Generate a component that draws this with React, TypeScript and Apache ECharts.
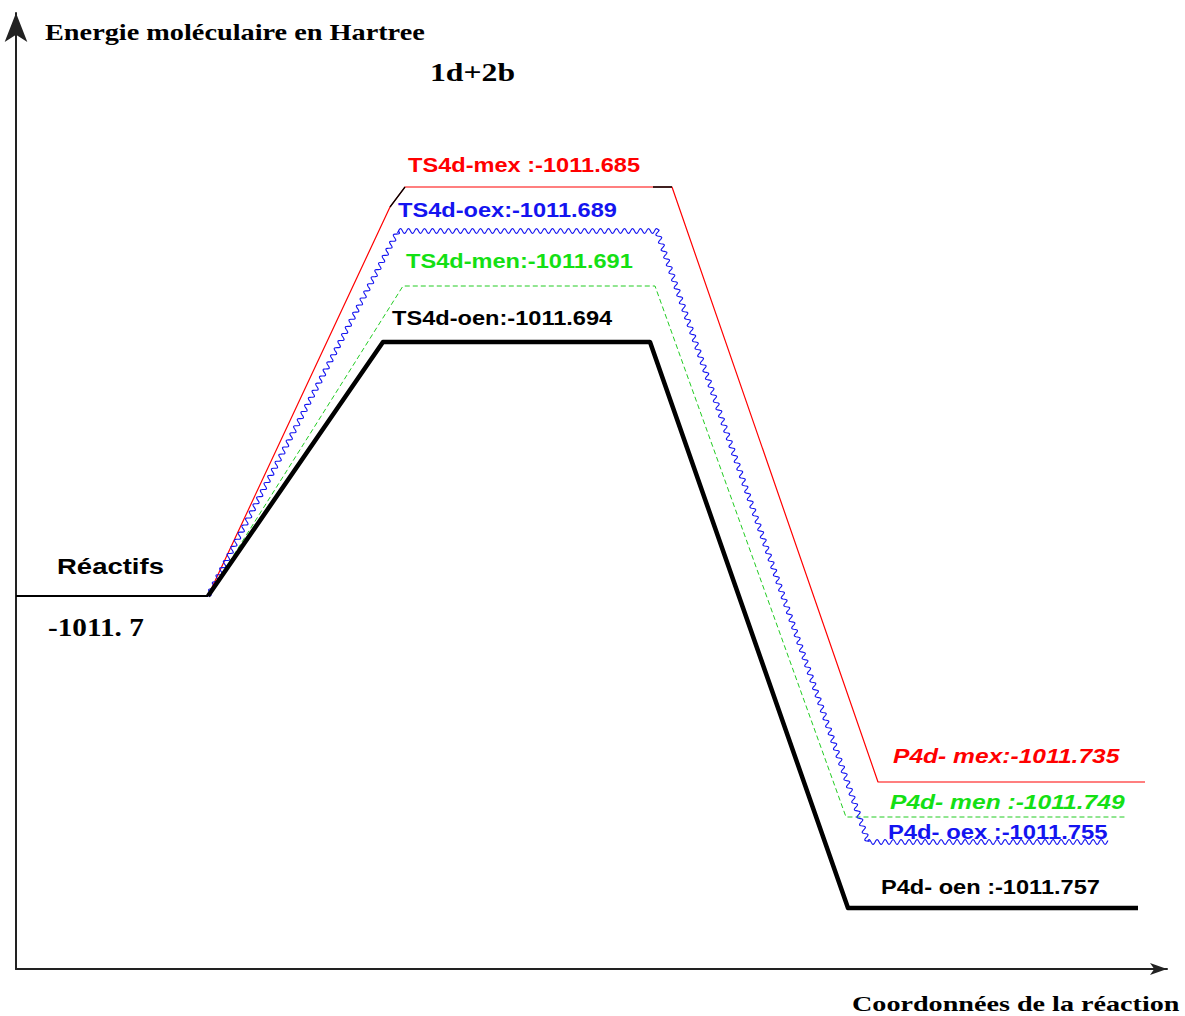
import React, { useEffect, useRef } from "react";
import * as echarts from "echarts";

// ---- Data (schematic reaction-coordinate positions and diagram levels) ----
const isomers = ["mex", "oex", "men", "oen"];
const tsEnergy = [-1011.685, -1011.689, -1011.691, -1011.694];
const tsPrefix = ["TS4d-mex :", "TS4d-oex:", "TS4d-men:", "TS4d-oen:"];
const pIsomers = ["mex", "men", "oex", "oen"];
const pEnergy = [-1011.735, -1011.749, -1011.755, -1011.757];
const pPrefix = ["P4d- mex:", "P4d- men :", "P4d- oex :", "P4d- oen :"];
const reactantLabel = "Réactifs";
const reactantEnergy = "-1011. 7";
const yTitle = "Energie moléculaire en Hartree";
const xTitle = "Coordonnées de la réaction";
const systemTitle = "1d+2b";

const reactX = [0, 19.2];
const reactY = [37.3, 37.3];

const mexX = [19.2, 37.4, 38.9, 65.6, 86.2, 112.9];
const mexY = [37.3, 76.2, 78.2, 78.2, 18.7, 18.7];
const oexX = [19.2, 38.2, 64.1, 85.2, 109.2];
const oexY = [37.3, 73.8, 73.8, 12.7, 12.7];
const menX = [19.2, 38.7, 63.9, 83.0, 111.1];
const menY = [37.3, 68.3, 68.3, 15.2, 15.2];
const oenX = [19.2, 36.7, 63.4, 83.2, 112.2];
const oenY = [37.3, 62.7, 62.7, 6.1, 6.1];

// small black pieces drawn over the red path in the original
const blackBitAX = [37.4, 38.9];
const blackBitAY = [76.2, 78.2];
const blackBitBX = [63.7, 65.6];
const blackBitBY = [78.2, 78.2];

const RED = "#ff0000";
const BLUE = "#1414f0";
const GREEN = "#14e014";
const GREEN_LINE = "#22cc22";

const pts = (xs: number[], ys: number[]) => xs.map((x, i) => [x, ys[i]]);

function txt(text: string, x: number, y: number, font: string, fill: string, sx: number) {
  return {
    type: "text",
    x,
    y,
    scaleX: sx,
    silent: true,
    style: {
      text,
      font,
      fill,
      textAlign: "left",
      textVerticalAlign: "middle",
      align: "left",
      verticalAlign: "middle",
    },
  };
}

export default function App() {
  const ref = useRef<HTMLDivElement>(null);
  useEffect(() => {
    if (!ref.current) return;
    const chart = echarts.init(ref.current, null, { renderer: "svg" });
    const SANS = '"Liberation Sans", Arial, sans-serif';
    const SERIF = '"Liberation Serif", "Times New Roman", serif';
    const fmt = (v: number) => v.toFixed(3);

    const wavy = (params: any, api: any) => {
      const p = oexX.map((x, i) => api.coord([x, oexY[i]]));
      const out: number[][] = [];
      const period = 8;
      const amp = 2.4;
      let dist = 0;
      for (let s = 0; s < p.length - 1; s++) {
        const a = p[s];
        const b = p[s + 1];
        const dx = b[0] - a[0];
        const dy = b[1] - a[1];
        const len = Math.hypot(dx, dy);
        const ux = dx / len;
        const uy = dy / len;
        const nx = -uy;
        const ny = ux;
        const steps = Math.max(2, Math.ceil(len / 0.7));
        for (let k = 0; k <= steps; k++) {
          const d = (k / steps) * len;
          const w = amp * Math.sin((2 * Math.PI * (dist + d)) / period);
          out.push([a[0] + ux * d + nx * w, a[1] + uy * d + ny * w]);
        }
        dist += len;
      }
      return {
        type: "polyline",
        shape: { points: out },
        style: { stroke: BLUE, lineWidth: 1.1, fill: null },
      };
    };

    const option: any = {
      animation: false,
      backgroundColor: "#ffffff",
      grid: { left: 16, top: 13, width: 1151, height: 956, containLabel: false },
      xAxis: {
        type: "value",
        min: 0,
        max: 115.1,
        axisLine: {
          show: true,
          onZero: false,
          symbol: ["none", "arrow"],
          symbolSize: [9, 17],
          lineStyle: { color: "#222", width: 2 },
        },
        axisTick: { show: false },
        axisLabel: { show: false },
        splitLine: { show: false },
      },
      yAxis: {
        type: "value",
        min: 0,
        max: 95.6,
        axisLine: {
          show: true,
          onZero: false,
          symbol: ["none", "arrow"],
          symbolSize: [17, 29],
          lineStyle: { color: "#222", width: 2 },
        },
        axisTick: { show: false },
        axisLabel: { show: false },
        splitLine: { show: false },
      },
      series: [
        {
          name: "mex",
          type: "line",
          data: pts(mexX, mexY),
          symbol: "none",
          lineStyle: { color: RED, width: 1.2 },
          z: 2,
        },
        {
          name: "men",
          type: "line",
          data: pts(menX, menY),
          symbol: "none",
          lineStyle: { color: GREEN_LINE, width: 1, type: [5, 3] },
          z: 2,
        },
        {
          name: "oex",
          type: "custom",
          renderItem: wavy,
          data: [[oexX[0], oexY[0]]],
          z: 3,
        },
        {
          name: "bitA",
          type: "line",
          data: pts(blackBitAX, blackBitAY),
          symbol: "none",
          lineStyle: { color: "#000", width: 1.3 },
          z: 4,
        },
        {
          name: "bitB",
          type: "line",
          data: pts(blackBitBX, blackBitBY),
          symbol: "none",
          lineStyle: { color: "#000", width: 1.5 },
          z: 4,
        },
        {
          name: "oen",
          type: "line",
          data: pts(oenX, oenY),
          symbol: "none",
          lineStyle: { color: "#000", width: 4.5, join: "round" },
          z: 5,
        },
        {
          name: "reactifs",
          type: "line",
          data: pts(reactX, reactY),
          symbol: "none",
          lineStyle: { color: "#000", width: 2.2 },
          z: 5,
        },
      ],
      graphic: [
        txt(yTitle, 45, 32, `bold 23px ${SERIF}`, "#000", 1.23),
        txt(systemTitle, 430, 72, `bold 26px ${SERIF}`, "#000", 1.22),
        txt(xTitle, 852, 1003, `bold 22px ${SERIF}`, "#000", 1.28),
        txt(reactantLabel, 57, 566, `bold 22px ${SANS}`, "#000", 1.25),
        txt(reactantEnergy, 48, 628, `bold 25px ${SERIF}`, "#000", 1.17),
        txt(tsPrefix[0] + fmt(tsEnergy[0]), 408, 165, `bold 20px ${SANS}`, RED, 1.18),
        txt(tsPrefix[1] + fmt(tsEnergy[1]), 398, 210, `bold 20px ${SANS}`, BLUE, 1.18),
        txt(tsPrefix[2] + fmt(tsEnergy[2]), 406, 261, `bold 20px ${SANS}`, GREEN, 1.18),
        txt(tsPrefix[3] + fmt(tsEnergy[3]), 392, 318, `bold 20px ${SANS}`, "#000", 1.18),
        txt(pPrefix[0] + fmt(pEnergy[0]), 893, 756, `italic bold 20px ${SANS}`, RED, 1.23),
        txt(pPrefix[1] + fmt(pEnergy[1]), 890, 802, `italic bold 20px ${SANS}`, GREEN, 1.23),
        txt(pPrefix[2] + fmt(pEnergy[2]), 888, 832, `bold 20px ${SANS}`, BLUE, 1.19),
        txt(pPrefix[3] + fmt(pEnergy[3]), 881, 887, `bold 20px ${SANS}`, "#000", 1.18),
      ],
    };
    chart.setOption(option);
    return () => chart.dispose();
  }, []);
  return (
    <div
      ref={ref}
      style={{ position: "fixed", left: 0, top: 0, width: 1185, height: 1016, background: "#fff" }}
    />
  );
}
